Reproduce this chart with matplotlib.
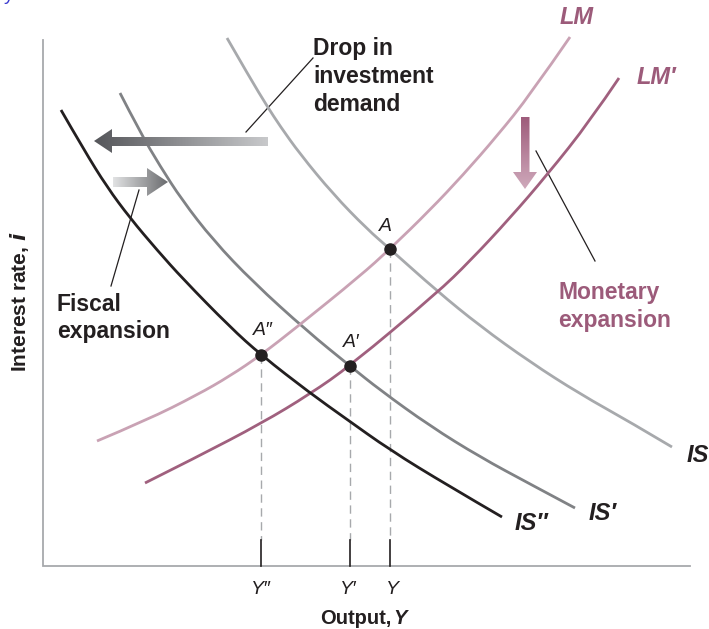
import numpy as np
import matplotlib.pyplot as plt
from matplotlib.patches import Polygon, PathPatch
from matplotlib.path import Path
from matplotlib.colors import LinearSegmentedColormap

plt.rcParams['font.family'] = ['Liberation Sans', 'DejaVu Sans']

# curve points (x, y in pixels, y pointing down)
is_x = [227, 250, 267, 280, 300, 333, 367, 390, 437, 480, 530, 580, 630, 672]
is_y = [38, 78, 106, 126, 154, 194, 229, 249, 291, 326, 362, 394, 422, 447]

is1_x = [120, 140, 160, 182, 213, 253, 307, 350, 380, 430, 480, 530, 575]
is1_y = [93, 132, 166, 200, 240, 282, 331, 366, 390, 426, 457, 484, 508]

is2_x = [61, 84, 107, 130, 157, 183, 230, 261, 310, 345, 390, 447, 502]
is2_y = [110, 150, 187, 218, 250, 279, 327, 355, 393, 418, 450, 485, 517]

lm_x = [97, 147, 197, 230, 261, 297, 360, 390, 430, 463, 497, 530, 570]
lm_y = [441, 420, 395, 376, 355, 327, 276, 249, 210, 175, 136, 95, 37]

lm1_x = [145, 197, 262, 310, 350, 437, 470, 510, 547, 590, 619]
lm1_y = [483, 457, 423, 394, 366, 293, 261, 218, 175, 121, 78]

# equilibrium points
pt_x = [390, 350, 261]
pt_y = [249, 366, 355]
pt_lab = ['A', 'A\u2032', 'A\u2033']
tick_lab = ['Y', 'Y\u2032', 'Y\u2033']

c_is = '#a7a9ac'
c_is1 = '#808285'
c_is2 = '#231f20'
c_lm = '#c9a2b4'
c_lm1 = '#a0607e'
c_txt = '#231f20'
c_mauve = '#9c5b7a'

fig = plt.figure(figsize=(7.09, 6.29), dpi=100)
ax = fig.add_axes([0, 0, 1, 1])
ax.set_xlim(0, 709)
ax.set_ylim(629, 0)
ax.axis('off')


def curve(xs, ys, color):
    # smooth path through the read points (quadratic segments)
    p = np.column_stack([xs, ys]).astype(float)
    verts = [p[0]]
    codes = [Path.MOVETO]
    for i in range(1, len(p) - 1):
        end = p[i + 1] if i == len(p) - 2 else (p[i] + p[i + 1]) / 2
        verts += [p[i], end]
        codes += [Path.CURVE3, Path.CURVE3]
    ax.add_patch(PathPatch(Path(verts, codes), fc='none', ec=color, lw=2,
                           capstyle='butt', zorder=3))


# axes
ax.plot([43, 43, 690], [40, 566, 566], color=c_is, lw=1.3, solid_joinstyle='miter')

# dashed guides and short ticks
for x, y in zip(pt_x, pt_y):
    ax.plot([x, x], [y, 540], color=c_is, lw=1, dashes=(6, 4))
    ax.plot([x, x], [540, 566], color=c_txt, lw=1.2)

curve(is_x, is_y, c_is)
curve(is1_x, is1_y, c_is1)
curve(lm_x, lm_y, c_lm)
curve(lm1_x, lm1_y, c_lm1)
curve(is2_x, is2_y, c_is2)

ax.plot(pt_x, pt_y, 'o', color=c_txt, ms=8, zorder=5)


def grad_arrow(verts, c0, c1, extent, vertical=False):
    poly = Polygon(verts, closed=True, fc='none', ec='none')
    ax.add_patch(poly)
    g = np.linspace(0, 1, 256)
    g = g.reshape(-1, 1) if vertical else g.reshape(1, -1)
    cmap = LinearSegmentedColormap.from_list('g', [c0, c1])
    im = ax.imshow(g, extent=extent, cmap=cmap, aspect='auto', zorder=4)
    im.set_clip_path(poly)


# drop in investment demand arrow (points left)
grad_arrow([(268, 137), (112, 137), (112, 129), (94, 141), (112, 153),
            (112, 146), (268, 146)], '#55565a', '#c8c9cb', (94, 268, 153, 129))
# fiscal expansion arrow (points right)
grad_arrow([(113, 177), (147, 177), (147, 168), (168, 182), (147, 196),
            (147, 187), (113, 187)], '#e2e3e4', '#6a6b6e', (113, 168, 196, 168))
# monetary expansion arrow (points down)
grad_arrow([(521, 117), (529.5, 117), (529.5, 172), (537, 172), (525, 189),
            (513, 172), (521, 172)], '#cfa9bb', '#9e5c7b', (513, 537, 117, 189),
           vertical=True)
ax.set_xlim(0, 709)
ax.set_ylim(629, 0)

# leader lines
ax.plot([313, 246], [58, 132], color=c_txt, lw=0.9)
ax.plot([139, 111], [190, 286], color=c_txt, lw=0.9)
ax.plot([536, 595], [151, 261], color=c_txt, lw=0.9)

# text
for s, y in zip(['Drop in', 'investment', 'demand'], [55, 83, 111]):
    ax.text(313, y, s, fontsize=16.5, fontweight='bold', color=c_txt, va='baseline')
for s, y in zip(['Fiscal', 'expansion'], [311, 338]):
    ax.text(57, y, s, fontsize=16.5, fontweight='bold', color=c_txt, va='baseline')
for s, y in zip(['Monetary', 'expansion'], [299, 327]):
    ax.text(558, y, s, fontsize=16.5, fontweight='bold', color=c_mauve, va='baseline')

ax.text(385, 231, pt_lab[0], fontsize=14, style='italic', color=c_txt, ha='center', va='baseline')
ax.text(343, 347, pt_lab[1], fontsize=14, style='italic', color=c_txt, ha='left', va='baseline')
ax.text(253, 335, pt_lab[2], fontsize=14, style='italic', color=c_txt, ha='left', va='baseline')

for x, s in zip([386, 340, 251], tick_lab):
    ax.text(x, 594, s, fontsize=14, style='italic', color=c_txt, ha='left', va='baseline')

ax.text(320, 624, 'Output,', fontsize=14.5, fontweight='bold', color=c_txt, va='baseline')
ax.text(393, 624, 'Y', fontsize=14.5, fontweight='bold', style='italic', color=c_txt, va='baseline')
ax.text(26, 302, 'Interest rate, $\\boldsymbol{i}$', fontsize=15, fontweight='bold', color=c_txt,
        rotation=90, ha='center', va='baseline', rotation_mode='anchor')

lab_kw = dict(fontsize=17, fontweight='bold', style='italic', ha='center', va='center')
ax.text(577, 18, 'LM', color=c_mauve, **lab_kw)
ax.text(656, 78, 'LM\u2032', color=c_mauve, **lab_kw)
ax.text(698, 455, 'IS', color=c_txt, **lab_kw)
ax.text(603, 513, 'IS\u2032', color=c_txt, **lab_kw)
ax.text(531, 523, 'IS\u2033', color=c_txt, **lab_kw)

ax.text(9, -4, 'y', fontsize=14, color='#3b3bd0', ha='center', va='center')

fig.savefig('out.png', dpi=100)
